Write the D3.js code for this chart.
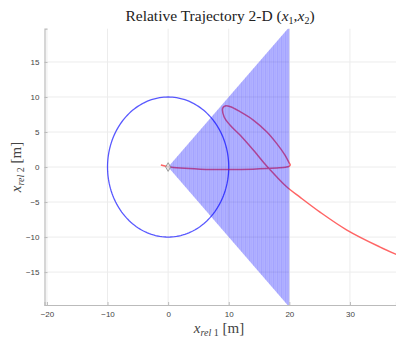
<!DOCTYPE html>
<html>
<head>
<meta charset="utf-8">
<script src="https://cdn.jsdelivr.net/npm/d3@7"></script>
<style>
  body { margin: 0; background: #fff; }
  svg { display: block; }
</style>
</head>
<body>
<div id="chart"></div>
<script>
// tick values
var xTicks = [-20, -10, 0, 10, 20, 30];
var yTicks = [-15, -10, -5, 0, 5, 10, 15];

// keep-out circle radius and cone (apex, far edge)
var circleRadius = [10];
var coneX = [0, 20, 20];
var coneY = [0, 20, -20];

// relative trajectory x_rel1, x_rel2
var trajX = [-1.2, 0, 2, 5.3, 10.2, 14, 16.3, 18.3, 19.4, 19.95, 20.15, 20.0, 19.28, 17.9, 16.26, 14.05, 11.86, 10.3, 9.4, 9.0, 9.23, 10.2, 11.86, 14.05, 16.26, 17.9, 19.55, 21.75, 25, 29.5, 34.9, 38];
var trajY = [0.3, 0.05, -0.15, -0.3, -0.35, -0.3, -0.22, -0.12, -0.02, 0.1, 0.3, 0.55, 1.71, 3.38, 5.04, 6.71, 7.9, 8.6, 8.72, 8.38, 7.19, 6.0, 4.57, 2.43, 0.14, -1.38, -2.81, -4.3, -6.4, -9, -11.4, -12.6];

var W = 396, H = 339;
var m = {left: 44.5, right: 0, top: 28.7, bottom: 34};

var svg = d3.select("#chart").append("svg")
    .attr("width", W).attr("height", H);

var x = d3.scaleLinear().domain([-20.4, 37.6]).range([m.left, W - m.right]);
var y = d3.scaleLinear().domain([-19.7, 19.75]).range([H - m.bottom, m.top]);

svg.append("clipPath").attr("id", "clip")
  .append("rect")
  .attr("x", m.left).attr("y", m.top)
  .attr("width", W - m.right - m.left).attr("height", H - m.bottom - m.top);

// grid
var grid = svg.append("g");
grid.selectAll(".gx").data(xTicks).enter().append("line")
    .attr("x1", d => x(d)).attr("x2", d => x(d))
    .attr("y1", m.top).attr("y2", H - m.bottom)
    .style("stroke", "#ececec").style("stroke-width", 1);
grid.selectAll(".gy").data(yTicks).enter().append("line")
    .attr("x1", m.left).attr("x2", W - m.right)
    .attr("y1", d => y(d)).attr("y2", d => y(d))
    .style("stroke", "#ececec").style("stroke-width", 1);

var plot = svg.append("g").attr("clip-path", "url(#clip)");

// circle
var circ = d3.range(0, 361, 2).map(a => [circleRadius[0] * Math.cos(a * Math.PI / 180), circleRadius[0] * Math.sin(a * Math.PI / 180)]);
plot.append("path")
    .datum(circ)
    .attr("d", d3.line().x(d => x(d[0])).y(d => y(d[1])))
    .style("fill", "none")
    .style("stroke", "#0000ff")
    .style("stroke-opacity", 0.65)
    .style("stroke-width", 1.3);

// trajectory
var traj = trajX.map((v, i) => [v, trajY[i]]);
plot.append("path")
    .datum(traj)
    .attr("d", d3.line().curve(d3.curveCatmullRom.alpha(0.5)).x(d => x(d[0])).y(d => y(d[1])))
    .style("fill", "none")
    .style("stroke", "#ff2a2a")
    .style("stroke-opacity", 0.72)
    .style("stroke-width", 1.5);

// cone, filled and striped
var cone = coneX.map((v, i) => [v, coneY[i]]);
plot.append("polygon")
    .attr("points", cone.map(d => x(d[0]) + "," + y(d[1])).join(" "))
    .style("fill", "#0000ff")
    .style("fill-opacity", 0.3);

var stripes = d3.range(0.25, 20, 0.33);
plot.selectAll(".stripe").data(stripes).enter().append("line")
    .attr("x1", d => x(d)).attr("x2", d => x(d))
    .attr("y1", d => y(d)).attr("y2", d => y(-d))
    .style("stroke", "#0000ff")
    .style("stroke-opacity", (d, i) => i % 2 ? 0.04 : 0.09)
    .style("stroke-width", 1);

// origin marker
plot.append("path")
    .attr("d", d3.symbol().type(d3.symbolDiamond).size(22))
    .attr("transform", "translate(" + x(0) + "," + y(0) + ")")
    .style("fill", "#ddd")
    .style("fill-opacity", 0.8)
    .style("stroke", "#888")
    .style("stroke-width", 0.8);

// axes
var xAxis = d3.axisBottom(x).tickValues(xTicks).tickSize(-3).tickPadding(6);
var yAxis = d3.axisLeft(y).tickValues(yTicks).tickSize(-3).tickPadding(5);

var gx = svg.append("g").attr("transform", "translate(0," + (H - m.bottom) + ")").call(xAxis);
var gy = svg.append("g").attr("transform", "translate(" + m.left + ",0)").call(yAxis);
[gx, gy].forEach(function(g) {
  g.select(".domain").style("stroke", "#bbb").style("stroke-width", 1.2);
  g.selectAll(".tick line").style("stroke", "#bbb");
  g.selectAll("text")
    .style("font-family", "Liberation Sans, Arial, sans-serif")
    .style("font-size", "8px")
    .style("fill", "#444");
});

// title
var title = svg.append("text")
    .attr("x", 220).attr("y", 21)
    .attr("text-anchor", "middle")
    .style("font-family", "Liberation Serif, DejaVu Serif, serif")
    .style("font-size", "15.5px")
    .style("fill", "#222");
title.append("tspan").text("Relative Trajectory 2-D (");
title.append("tspan").style("font-style", "italic").text("x");
title.append("tspan").attr("dy", 3).style("font-size", "10px").text("1");
title.append("tspan").attr("dy", -3).text(",");
title.append("tspan").style("font-style", "italic").text("x");
title.append("tspan").attr("dy", 3).style("font-size", "10px").text("2");
title.append("tspan").attr("dy", -3).text(")");

// x label
var xl = svg.append("text")
    .attr("x", 219).attr("y", 333)
    .attr("text-anchor", "middle")
    .style("font-family", "Liberation Serif, DejaVu Serif, serif")
    .style("font-size", "15px")
    .style("fill", "#444");
xl.append("tspan").style("font-style", "italic").text("x");
xl.append("tspan").attr("dy", 3).style("font-size", "10px").style("font-style", "italic").text("rel");
xl.append("tspan").style("font-size", "10px").text("  1");
xl.append("tspan").attr("dy", -3).text(" [m]");

// y label
var yl = svg.append("text")
    .attr("transform", "translate(21,167) rotate(-90)")
    .attr("text-anchor", "middle")
    .style("font-family", "Liberation Serif, DejaVu Serif, serif")
    .style("font-size", "15px")
    .style("fill", "#444");
yl.append("tspan").style("font-style", "italic").text("x");
yl.append("tspan").attr("dy", 3).style("font-size", "10px").style("font-style", "italic").text("rel");
yl.append("tspan").style("font-size", "10px").text("  2");
yl.append("tspan").attr("dy", -3).text(" [m]");
</script>
</body>
</html>
